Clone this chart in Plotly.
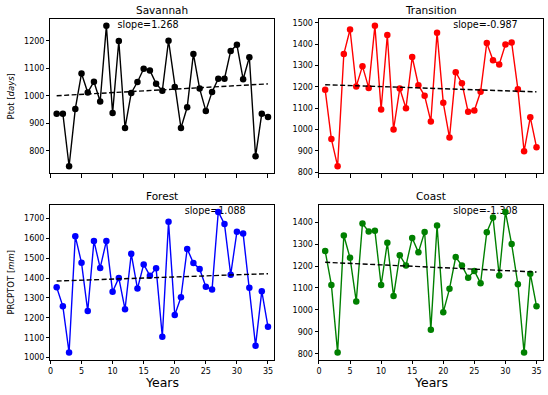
import plotly.graph_objects as go

years = list(range(1, 36))

savannah = [935, 935, 744, 952, 1081, 1012, 1051, 979, 1254, 937,
            1199, 883, 1010, 1050, 1098, 1092, 1044, 1018, 1200, 1032,
            883, 958, 1152, 1026, 945, 1014, 1062, 1062, 1163, 1185,
            1060, 1140, 780, 935, 923]
transition = [1186, 955, 828, 1354, 1469, 1202, 1297, 1195, 1486, 1094,
              1443, 1000, 1192, 1100, 1340, 1208, 1158, 1038, 1454, 1125,
              962, 1269, 1217, 1083, 1089, 1177, 1406, 1325, 1305, 1398,
              1408, 1189, 898, 1057, 917]
forest = [1354, 1258, 1025, 1610, 1477, 1234, 1587, 1451, 1587, 1331,
          1401, 1243, 1522, 1347, 1469, 1412, 1449, 1105, 1683, 1214,
          1304, 1547, 1476, 1446, 1356, 1342, 1733, 1672, 1417, 1633,
          1624, 1351, 1060, 1334, 1155]
coast = [1268, 1114, 806, 1339, 1237, 1039, 1393, 1357, 1360, 1113,
         1306, 1063, 1249, 1202, 1327, 1262, 1355, 910, 1384, 990,
         1096, 1241, 1202, 1147, 1177, 1122, 1354, 1421, 1157, 1446,
         1300, 1117, 806, 1165, 1017]

names = ["Savannah", "Transition", "Forest", "Coast"]
series = [savannah, transition, forest, coast]
colors = ["#000000", "#ff0000", "#0000ff", "#008000"]
slopes = [1.268, -0.987, 1.088, -1.308]
intercepts = [998.7, 1211.0, 1384.0, 1218.3]
slope_labels = ["slope=1.268", "slope=-0.987", "slope=1.088", "slope=-1.308"]
x_ticks = [0, 5, 10, 15, 20, 25, 30, 35]

W, H = 548, 395
px_x = [(47.7, 272.7), (317.7, 542.7), (47.7, 272.7), (317.7, 542.7)]
px_y = [(19, 175), (19, 175), (207, 363.3), (207, 363.3)]
text_pos = [0.30, 0.60, 0.60, 0.60]
FONT = "DejaVu Sans"

fig = go.Figure()
layout = {}
annotations = []

for i in range(4):
    n = i + 1
    xa = "x" if n == 1 else f"x{n}"
    ya = "y" if n == 1 else f"y{n}"
    vals = series[i]
    lo, hi = min(vals), max(vals)
    span = hi - lo
    yr = [lo - 0.05 * span, hi + 0.05 * span]
    xr = [0, 36]

    # slope text (drawn beneath the data)
    tx = xr[0] + text_pos[i] * (xr[1] - xr[0])
    ty = yr[0] + 0.955 * (yr[1] - yr[0])
    fig.add_trace(go.Scatter(x=[tx], y=[ty], mode="text", text=[slope_labels[i]],
                             textposition="middle right",
                             textfont=dict(family=FONT, size=9.6, color="#000000"),
                             xaxis=xa, yaxis=ya, showlegend=False, hoverinfo="skip"))
    # data line
    fig.add_trace(go.Scatter(x=years, y=vals, mode="lines+markers",
                             line=dict(color=colors[i], width=1.4),
                             marker=dict(color=colors[i], size=6.5),
                             xaxis=xa, yaxis=ya, showlegend=False))
    # trend
    trend = [intercepts[i] + slopes[i] * yv for yv in years]
    fig.add_trace(go.Scatter(x=years, y=trend, mode="lines",
                             line=dict(color="#000000", width=1.4, dash="5px,2.5px"),
                             xaxis=xa, yaxis=ya, showlegend=False))

    x0, x1 = px_x[i]
    y0, y1 = px_y[i]
    bottom = i >= 2
    layout["xaxis" if n == 1 else f"xaxis{n}"] = dict(
        domain=[x0 / W, x1 / W], range=xr, anchor=ya,
        tickvals=x_ticks, showticklabels=bottom,
        ticks="outside", ticklen=3.5, tickwidth=0.8, tickcolor="#000000",
        showline=True, linecolor="#000000", linewidth=0.8, mirror=True,
        showgrid=False, zeroline=False,
        tickfont=dict(family=FONT, size=8, color="#000000"))
    layout["yaxis" if n == 1 else f"yaxis{n}"] = dict(
        domain=[1 - y1 / H, 1 - y0 / H], range=yr, anchor=xa,
        dtick=100, ticks="outside", ticklen=3.5, tickwidth=0.8, tickcolor="#000000",
        showline=True, linecolor="#000000", linewidth=0.8, mirror=True,
        showgrid=False, zeroline=False,
        tickfont=dict(family=FONT, size=8, color="#000000"))

    # panel title
    annotations.append(dict(text=names[i], xref="paper", yref="paper",
                            x=(x0 + x1) / 2 / W, y=1 - (y0 - 9) / H,
                            xanchor="center", yanchor="middle", showarrow=False,
                            font=dict(family=FONT, size=10.5, color="#000000")))
    if bottom:
        annotations.append(dict(text="Years", xref="paper", yref="paper",
                                x=(x0 + x1) / 2 / W, y=1 - 386 / H,
                                xanchor="center", yanchor="middle", showarrow=False,
                                font=dict(family=FONT, size=12.5, color="#000000")))

annotations.append(dict(text="Ptot [<i>days</i>]", xref="paper", yref="paper",
                        x=8.5 / W, y=1 - 97 / H, textangle=-90,
                        xanchor="center", yanchor="middle", showarrow=False,
                        font=dict(family=FONT, size=8.5, color="#000000")))
annotations.append(dict(text="PRCPTOT [<i>mm</i>]", xref="paper", yref="paper",
                        x=8.5 / W, y=1 - 285 / H, textangle=-90,
                        xanchor="center", yanchor="middle", showarrow=False,
                        font=dict(family=FONT, size=8.5, color="#000000")))

fig.update_layout(**layout)
fig.update_layout(width=W, height=H, margin=dict(l=0, r=0, t=0, b=0),
                  paper_bgcolor="#ffffff", plot_bgcolor="#ffffff",
                  annotations=annotations, showlegend=False,
                  font=dict(family=FONT))
fig.write_html("out.html", config={"displayModeBar": False},
               post_script="document.body.style.margin='0';document.body.style.padding='0';document.body.style.overflow='hidden';")
